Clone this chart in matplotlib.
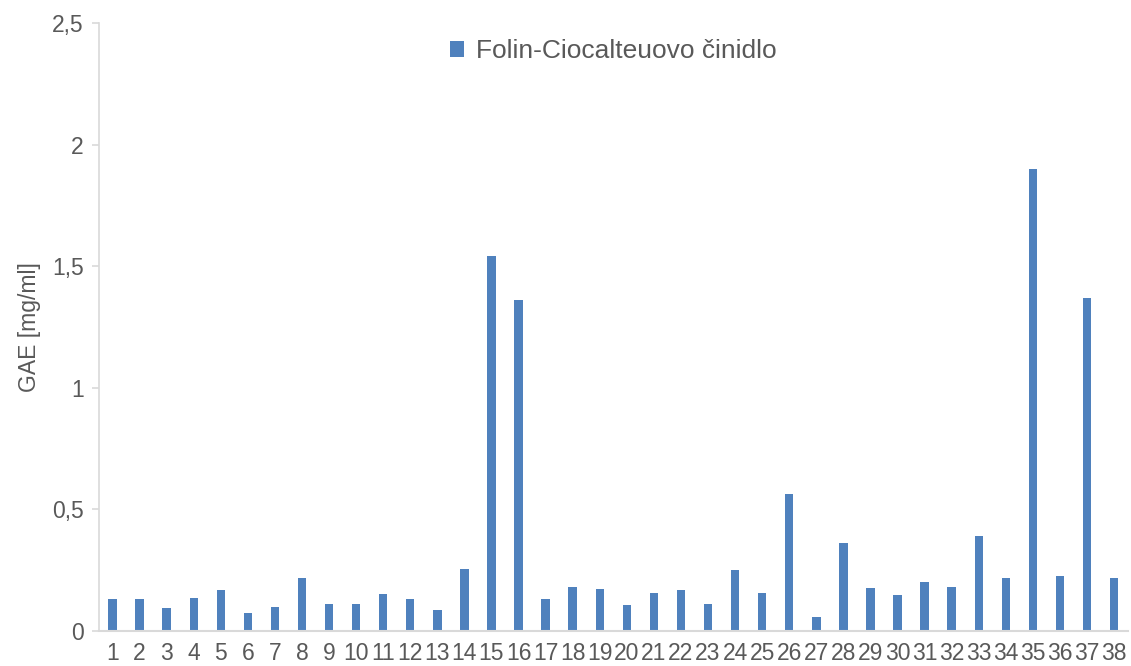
import matplotlib
matplotlib.use("Agg")
import matplotlib.pyplot as plt
from matplotlib.ticker import FuncFormatter, MultipleLocator

plt.rcParams['font.family'] = ['Liberation Sans', 'DejaVu Sans']

samples = [str(i) for i in range(1, 39)]
gae = [0.131, 0.130, 0.094, 0.137, 0.168, 0.074, 0.100, 0.216, 0.111, 0.112,
       0.152, 0.131, 0.086, 0.253, 1.543, 1.363, 0.130, 0.179, 0.172, 0.105,
       0.155, 0.167, 0.110, 0.252, 0.157, 0.562, 0.057, 0.362, 0.177, 0.148,
       0.200, 0.179, 0.391, 0.219, 1.900, 0.225, 1.371, 0.220]
series_name = "Folin-Ciocalteuovo činidlo"
y_label = "GAE [mg/ml]"

text_color = "#595959"
axis_color = "#d9d9d9"
bar_color = "#4f81bd"

fig = plt.figure(figsize=(11.31, 6.66), dpi=100)
ax = fig.add_axes([0.0875, 0.0525, 0.9095, 0.913])

x = list(range(1, len(samples) + 1))
ax.bar(x, gae, width=0.31, color=bar_color, label=series_name, zorder=2)

ax.set_xlim(0.5, len(samples) + 0.5)
ax.set_ylim(0, 2.5)
ax.yaxis.set_major_locator(MultipleLocator(0.5))
ax.yaxis.set_major_formatter(
    FuncFormatter(lambda v, _: ("%g" % round(v, 2)).replace(".", ",")))
ax.set_xticks(x)
ax.set_xticklabels(samples)

for side in ("top", "right"):
    ax.spines[side].set_visible(False)
ax.spines["left"].set_color(axis_color)
ax.spines["bottom"].set_color(axis_color)
ax.spines["left"].set_linewidth(1.2)
ax.spines["bottom"].set_linewidth(1.5)

ax.tick_params(axis="y", colors=axis_color, labelcolor=text_color,
               labelsize=16.5, length=5, width=1.2, pad=6)
ax.tick_params(axis="x", length=0, labelcolor=text_color, labelsize=16.5, pad=8)

ax.set_ylabel(y_label, color=text_color, fontsize=16.5, labelpad=8)

leg = ax.legend(loc="upper center", bbox_to_anchor=(0.5, 1.012), frameon=False,
                fontsize=19, handlelength=0.55, handleheight=0.55,
                handletextpad=0.45, labelcolor=text_color)

fig.savefig("out.png", dpi=100)
